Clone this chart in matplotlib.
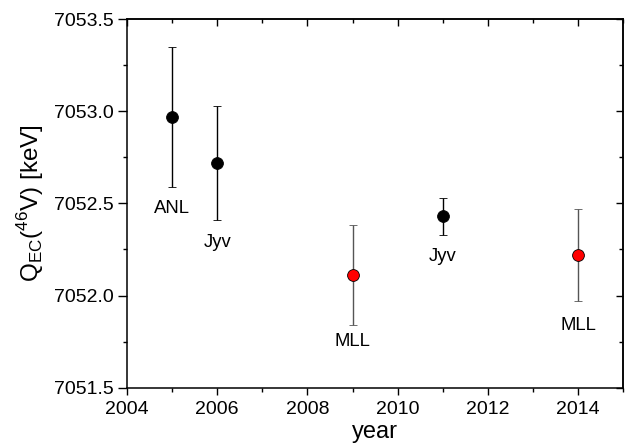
import matplotlib
matplotlib.use("Agg")
import matplotlib.pyplot as plt
from matplotlib.ticker import MultipleLocator, FormatStrFormatter, NullFormatter

plt.rcParams['font.family'] = ['Liberation Sans', 'DejaVu Sans']
plt.rcParams['mathtext.fontset'] = 'custom'
plt.rcParams['mathtext.rm'] = 'Liberation Sans'

# Dados
anos = [2005, 2006, 2009, 2011, 2014]
q_ec = [7052.97, 7052.72, 7052.11, 7052.43, 7052.22]
erros = [0.38, 0.31, 0.27, 0.10, 0.25]
cores = ['black', 'black', 'red', 'black', 'red']
cor_erro = ['black', 'black', '#555555', 'black', '#555555']
rotulos = ['ANL', 'Jyv', 'MLL', 'Jyv', 'MLL']
rotulo_y = [7052.47, 7052.29, 7051.75, 7052.21, 7051.84]

fig = plt.figure(figsize=(6.32, 4.45), dpi=100)
ax = fig.add_axes([0.201, 0.1288, 0.785, 0.8285])

for x, y, e, c, ce in zip(anos, q_ec, erros, cores, cor_erro):
    ax.errorbar(x, y, yerr=e, fmt='o', color=c, ecolor=ce, mec='black',
                mew=0.6, ms=8.5, elinewidth=1.0, capsize=2.6, capthick=1.0)

for x, y, t in zip(anos, rotulo_y, rotulos):
    ax.text(x, y, t, ha='center', va='center', fontsize=13.3)

ax.set_xlim(2004, 2015)
ax.set_ylim(7051.5, 7053.5)
ax.xaxis.set_major_locator(MultipleLocator(2))
ax.xaxis.set_minor_locator(MultipleLocator(1))
ax.yaxis.set_major_locator(MultipleLocator(0.5))
ax.yaxis.set_minor_locator(MultipleLocator(0.25))
ax.yaxis.set_major_formatter(FormatStrFormatter('%.1f'))
ax.tick_params(which='both', direction='out', labelsize=14, width=1)
ax.tick_params(axis='y', which='major', length=6.3, pad=3)
ax.tick_params(axis='y', which='minor', length=2.8)
ax.tick_params(axis='x', which='major', length=5, pad=4.5)
ax.tick_params(axis='x', which='minor', length=2.6)
for s in ax.spines.values():
    s.set_linewidth(1.1)

# eixos espelhados (ticks para dentro)
topo = ax.secondary_xaxis('top')
topo.xaxis.set_major_locator(MultipleLocator(2))
topo.xaxis.set_minor_locator(MultipleLocator(1))
topo.xaxis.set_major_formatter(NullFormatter())
topo.tick_params(which='both', direction='in', width=1)
topo.tick_params(which='major', length=5)
topo.tick_params(which='minor', length=3.2)
topo.spines['top'].set_linewidth(1.1)

dir_ = ax.secondary_yaxis('right')
dir_.yaxis.set_major_locator(MultipleLocator(0.5))
dir_.yaxis.set_minor_locator(MultipleLocator(0.25))
dir_.yaxis.set_major_formatter(NullFormatter())
dir_.tick_params(which='both', direction='in', width=1)
dir_.tick_params(which='major', length=5)
dir_.tick_params(which='minor', length=3.2)
dir_.spines['right'].set_linewidth(1.1)

ax.set_xlabel('year', fontsize=17, labelpad=2)
ax.set_ylabel(r'Q$_{\mathrm{EC}}$($^{46}$V) [keV]', fontsize=17.5, labelpad=6)

fig.savefig('out.png', dpi=100)
